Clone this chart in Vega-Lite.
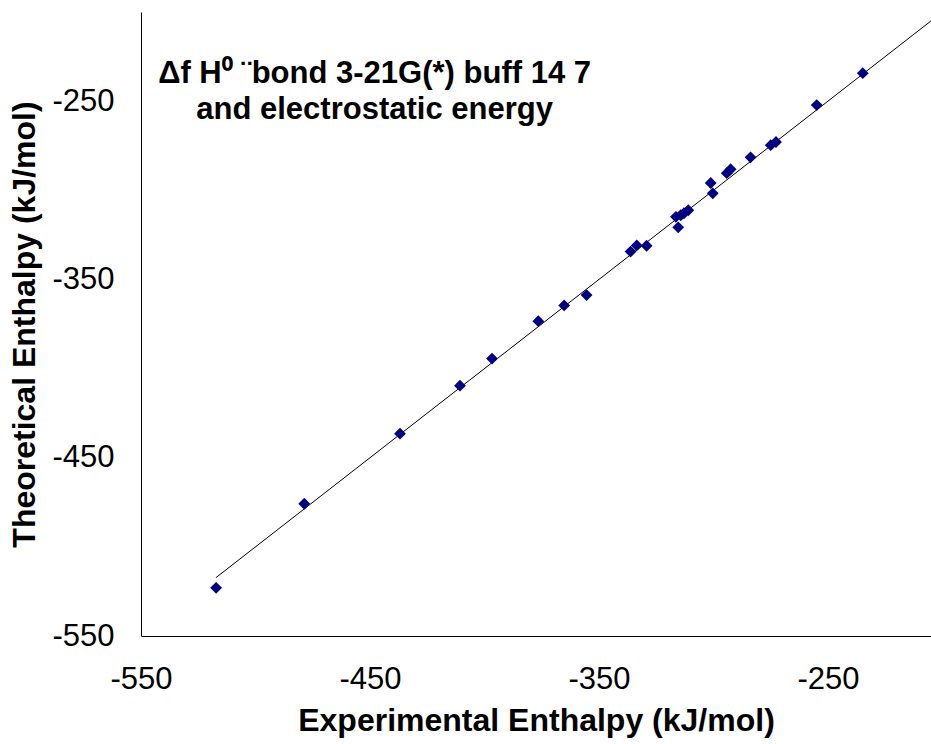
{
  "$schema": "https://vega.github.io/schema/vega-lite/v6.json",
  "width": 790,
  "height": 624,
  "autosize": "none",
  "padding": {"left": 141, "top": 12, "right": 0, "bottom": 108},
  "background": "white",
  "config": {"view": {"stroke": null}, "font": "Liberation Sans"},
  "datasets": {
    "points": [
      {"exp": -517.2, "theo": -523.0},
      {"exp": -478.7, "theo": -475.8},
      {"exp": -436.9, "theo": -436.5},
      {"exp": -410.7, "theo": -409.6},
      {"exp": -396.7, "theo": -394.4},
      {"exp": -376.5, "theo": -373.4},
      {"exp": -365.2, "theo": -364.6},
      {"exp": -355.4, "theo": -358.8},
      {"exp": -336.2, "theo": -334.4},
      {"exp": -333.5, "theo": -330.9},
      {"exp": -329.2, "theo": -331.1},
      {"exp": -316.4, "theo": -314.9},
      {"exp": -314.3, "theo": -314.0},
      {"exp": -312.9, "theo": -312.9},
      {"exp": -311.0, "theo": -311.2},
      {"exp": -315.4, "theo": -320.8},
      {"exp": -301.2, "theo": -295.9},
      {"exp": -300.3, "theo": -301.7},
      {"exp": -294.2, "theo": -290.4},
      {"exp": -292.5, "theo": -288.2},
      {"exp": -283.8, "theo": -281.5},
      {"exp": -275.0, "theo": -274.7},
      {"exp": -272.7, "theo": -272.9},
      {"exp": -254.9, "theo": -252.2},
      {"exp": -234.8, "theo": -234.3}
    ],
    "fit": [
      {"exp": -517.3, "theo": -517.3},
      {"exp": -200, "theo": -200}
    ]
  },
  "layer": [
    {
      "data": {"name": "fit"},
      "mark": {"type": "line", "color": "black", "strokeWidth": 1, "clip": true},
      "encoding": {
        "x": {
          "field": "exp", "type": "quantitative",
          "scale": {"domain": [-550, -205], "nice": false, "zero": false},
          "axis": {
            "title": "Experimental Enthalpy (kJ/mol)",
            "values": [-550, -450, -350, -250],
            "labelExpr": "'' + datum.value",
            "grid": false, "ticks": false,
            "domainColor": "#000000", "domainWidth": 1,
            "labelFontSize": 31, "labelColor": "#000000", "labelPadding": 28,
            "labelFlush": false,
            "titleFontSize": 32, "titleFontWeight": "bold", "titleColor": "#000000", "titlePadding": 11
          }
        },
        "y": {
          "field": "theo", "type": "quantitative",
          "scale": {"domain": [-550, -200], "nice": false, "zero": false},
          "axis": {
            "title": "Theoretical Enthalpy (kJ/mol)",
            "values": [-550, -450, -350, -250],
            "labelExpr": "'' + datum.value",
            "grid": false, "ticks": false,
            "domainColor": "#000000", "domainWidth": 1,
            "labelFontSize": 31, "labelColor": "#000000", "labelPadding": 27,
            "labelFlush": false,
            "titleFontSize": 32, "titleFontWeight": "bold", "titleColor": "#000000", "titlePadding": 10
          }
        }
      }
    },
    {
      "data": {"name": "points"},
      "mark": {"type": "point", "shape": "diamond", "filled": true, "color": "#000080", "opacity": 1, "size": 140},
      "encoding": {
        "x": {"field": "exp", "type": "quantitative"},
        "y": {"field": "theo", "type": "quantitative"}
      }
    },
    {
      "data": {"values": [{}]},
      "mark": {"type": "text", "align": "center", "baseline": "middle", "fontSize": 31, "fontWeight": "bold", "color": "#000000", "lineHeight": 36},
      "encoding": {
        "x": {"datum": -448},
        "y": {"datum": -235},
        "text": {"value": ["Δf H⁰ ¨bond 3-21G(*) buff 14 7", "and electrostatic energy"]}
      }
    }
  ]
}
